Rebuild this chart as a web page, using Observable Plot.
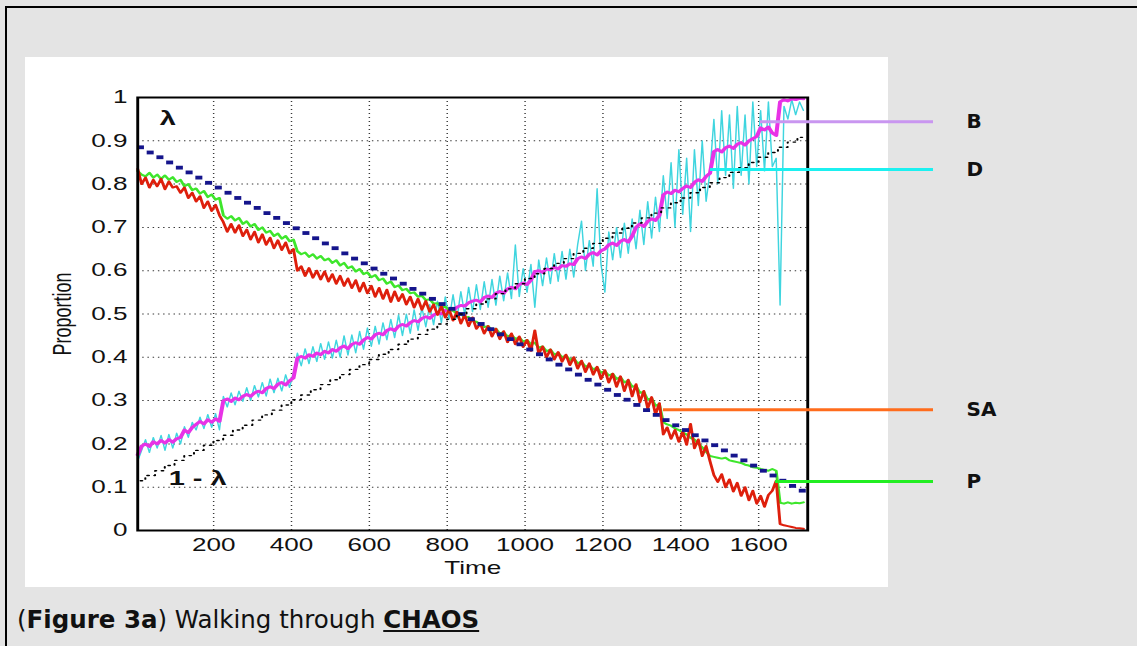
<!DOCTYPE html>
<html><head><meta charset="utf-8">
<script src="https://cdn.jsdelivr.net/npm/d3@7"></script>
<script src="https://cdn.jsdelivr.net/npm/@observablehq/plot@0.6"></script>
<style>
html,body{margin:0;padding:0;background:#e4e4e4;}
#page{position:relative;width:1137px;height:646px;overflow:hidden;background:#e4e4e4;}
#border{position:absolute;left:5px;top:6px;right:-10px;bottom:-10px;border-top:2px solid #000;border-left:2px solid #000;}
#panel{position:absolute;left:25px;top:57px;width:863px;height:530px;background:#fff;}
#chart,#overlay{position:absolute;left:0;top:0;}
#caption{position:absolute;left:17px;top:606px;font-family:"DejaVu Sans",Verdana,sans-serif;font-size:24.5px;line-height:28px;color:#111;white-space:nowrap;}
</style></head><body>
<div id="page"><div id="border"></div><div id="panel"></div><div id="chart"></div><div id="overlay"></div>
<div id="caption">(<b>Figure 3a</b>) Walking through <b><u>CHAOS</u></b></div></div>
<script>
// ---- data ----
const timeStart = 5, timeStep = 10;
const seriesSA = [0.835,0.800,0.815,0.792,0.810,0.795,0.812,0.788,0.806,0.792,
 0.795,0.780,0.792,0.768,0.780,0.760,0.772,0.745,0.760,0.738,
 0.752,0.728,0.712,0.690,0.708,0.688,0.705,0.680,0.695,0.672,
 0.690,0.665,0.684,0.660,0.676,0.652,0.670,0.648,0.665,0.640,
 0.650,0.600,0.610,0.588,0.606,0.584,0.600,0.580,0.598,0.575,
 0.592,0.570,0.588,0.565,0.582,0.560,0.578,0.552,0.572,0.548,
 0.565,0.540,0.560,0.535,0.556,0.528,0.552,0.530,0.546,0.522,
 0.540,0.515,0.535,0.510,0.530,0.505,0.522,0.498,0.518,0.492,
 0.510,0.485,0.505,0.478,0.498,0.472,0.492,0.466,0.478,0.455,
 0.472,0.448,0.466,0.442,0.460,0.435,0.455,0.430,0.448,0.424,
 0.440,0.415,0.462,0.408,0.425,0.400,0.418,0.395,0.412,0.390,
 0.406,0.382,0.400,0.374,0.392,0.366,0.386,0.360,0.378,0.350,
 0.370,0.342,0.362,0.332,0.356,0.322,0.348,0.310,0.338,0.296,
 0.322,0.282,0.308,0.268,0.294,0.222,0.238,0.212,0.232,0.205,
 0.228,0.198,0.246,0.190,0.210,0.172,0.195,0.160,0.128,0.112,
 0.130,0.100,0.118,0.090,0.110,0.080,0.100,0.070,0.092,0.062,
 0.080,0.055,0.082,0.092,0.115,0.015,0.012,0.010,0.008,0.006,
 0.005,0.004];
const seriesP = [0.830,0.822,0.818,0.826,0.815,0.822,0.812,0.820,0.810,0.816,
 0.805,0.810,0.795,0.800,0.786,0.790,0.778,0.784,0.770,0.776,
 0.764,0.768,0.728,0.720,0.726,0.716,0.722,0.708,0.714,0.702,
 0.708,0.694,0.700,0.688,0.692,0.680,0.686,0.674,0.680,0.668,
 0.672,0.645,0.638,0.642,0.632,0.638,0.628,0.634,0.624,0.628,
 0.618,0.624,0.612,0.618,0.606,0.610,0.598,0.604,0.592,0.596,
 0.585,0.590,0.578,0.582,0.570,0.575,0.562,0.566,0.555,0.558,
 0.548,0.550,0.540,0.542,0.532,0.534,0.524,0.525,0.516,0.517,
 0.508,0.508,0.500,0.500,0.492,0.493,0.484,0.482,0.476,0.470,
 0.472,0.462,0.466,0.455,0.458,0.448,0.452,0.442,0.446,0.436,
 0.440,0.430,0.434,0.422,0.425,0.414,0.418,0.406,0.410,0.400,
 0.404,0.394,0.398,0.386,0.390,0.378,0.382,0.372,0.376,0.364,
 0.368,0.358,0.362,0.350,0.354,0.342,0.346,0.332,0.334,0.318,
 0.320,0.302,0.306,0.288,0.292,0.250,0.245,0.242,0.236,0.232,
 0.226,0.222,0.214,0.210,0.200,0.192,0.182,0.172,0.170,0.168,
 0.166,0.168,0.162,0.160,0.158,0.156,0.152,0.150,0.146,0.145,
 0.142,0.140,0.138,0.142,0.138,0.064,0.062,0.065,0.062,0.064,
 0.063,0.065];
const seriesB = [0.175,0.195,0.200,0.194,0.205,0.200,0.208,0.202,0.210,0.204,
 0.212,0.215,0.232,0.226,0.238,0.245,0.252,0.246,0.256,0.250,
 0.258,0.252,0.300,0.304,0.298,0.306,0.302,0.310,0.314,0.310,
 0.318,0.322,0.318,0.328,0.332,0.328,0.338,0.342,0.336,0.346,
 0.352,0.398,0.402,0.398,0.406,0.402,0.410,0.406,0.414,0.410,
 0.418,0.414,0.422,0.426,0.420,0.430,0.434,0.430,0.440,0.446,
 0.442,0.452,0.456,0.452,0.462,0.466,0.462,0.472,0.476,0.472,
 0.480,0.485,0.482,0.490,0.494,0.490,0.498,0.502,0.500,0.508,
 0.512,0.508,0.516,0.520,0.518,0.526,0.530,0.532,0.528,0.538,
 0.542,0.538,0.548,0.552,0.548,0.558,0.562,0.558,0.568,0.572,
 0.568,0.578,0.598,0.600,0.596,0.604,0.602,0.608,0.604,0.612,
 0.610,0.616,0.614,0.628,0.632,0.628,0.638,0.642,0.636,0.646,
 0.650,0.660,0.664,0.658,0.668,0.672,0.666,0.680,0.700,0.708,
 0.702,0.714,0.720,0.716,0.728,0.775,0.782,0.778,0.786,0.782,
 0.790,0.796,0.792,0.804,0.810,0.806,0.818,0.825,0.875,0.880,
 0.874,0.884,0.888,0.882,0.892,0.896,0.890,0.900,0.905,0.910,
 0.930,0.925,0.932,0.918,0.912,0.990,0.995,0.992,0.997,0.995,
 0.998,0.997];
const seriesD = [0.160,0.185,0.210,0.180,0.215,0.190,0.220,0.185,0.222,0.190,
 0.225,0.200,0.240,0.215,0.250,0.232,0.262,0.235,0.268,0.238,
 0.270,0.232,0.310,0.285,0.318,0.290,0.322,0.298,0.330,0.300,
 0.335,0.308,0.342,0.310,0.350,0.318,0.352,0.322,0.360,0.330,
 0.365,0.410,0.380,0.420,0.385,0.425,0.390,0.432,0.395,0.436,
 0.398,0.440,0.400,0.450,0.405,0.452,0.410,0.460,0.418,0.468,
 0.425,0.472,0.430,0.480,0.440,0.488,0.445,0.498,0.450,0.500,
 0.455,0.510,0.462,0.515,0.470,0.522,0.475,0.530,0.480,0.540,
 0.488,0.545,0.490,0.552,0.498,0.562,0.505,0.568,0.510,0.575,
 0.515,0.580,0.520,0.588,0.530,0.595,0.535,0.660,0.540,0.605,
 0.550,0.615,0.515,0.625,0.565,0.630,0.570,0.640,0.575,0.645,
 0.580,0.650,0.585,0.660,0.715,0.600,0.670,0.610,0.790,0.615,
 0.550,0.690,0.625,0.700,0.630,0.710,0.640,0.720,0.650,0.740,
 0.660,0.760,0.675,0.770,0.690,0.820,0.720,0.850,0.700,0.880,
 0.730,0.860,0.690,0.880,0.750,0.900,0.760,0.830,0.950,0.800,
 0.970,0.820,0.960,0.790,0.980,0.820,0.960,0.800,0.990,0.840,
 0.970,0.830,0.990,0.840,0.860,0.520,0.980,0.950,0.995,0.960,
 0.990,0.970];
const lambdaStart = 12, lambdaStep = 25;
const lambda = [0.885,0.873,0.862,0.850,0.838,0.827,0.815,0.803,0.792,0.780,
 0.768,0.757,0.745,0.733,0.722,0.710,0.698,0.687,0.675,0.663,
 0.652,0.640,0.628,0.617,0.605,0.593,0.582,0.570,0.558,0.547,
 0.535,0.523,0.512,0.500,0.488,0.477,0.465,0.453,0.442,0.430,
 0.418,0.407,0.395,0.383,0.372,0.360,0.348,0.337,0.325,0.313,
 0.302,0.290,0.278,0.267,0.255,0.243,0.232,0.220,0.208,0.197,
 0.185,0.173,0.162,0.150,0.138,0.127,0.115,0.103,0.092];
const xTicks = [200,400,600,800,1000,1200,1400,1600];
const yTicks = [0,0.1,0.2,0.3,0.4,0.5,0.6,0.7,0.8,0.9,1];
const seriesLabels = ["B","D","SA","P"];
const leaderValues = [0.944,0.834,0.279,0.113];
const leaderStarts = [1605,1477,1356,1644];
const annotationTexts = ["λ","1 - λ"];
const annotationTimes = [82,159];
const annotationValues = [0.952,0.12];

// ---- styles ----
const lineColors = {D:"#3fd5df", B:"#e832e6", P:"#3ee62c", SA:"#de1f0c"};
const leaderColors = {B:"#c996f0", D:"#1cf0f0", SA:"#ff6c1c", P:"#22ee22"};

// ---- tables ----
const toRows = (vals) => vals.map((v,i) => ({time: timeStart + i*timeStep, value: v}));
const rowsD = toRows(seriesD), rowsB = toRows(seriesB), rowsP = toRows(seriesP), rowsSA = toRows(seriesSA);
const lambdaRows = lambda.map((v,i) => ({time: lambdaStart + i*lambdaStep, value: v}));
const leaders = seriesLabels.map((l,i) => ({label: l, value: leaderValues[i], start: leaderStarts[i]}));
const annotations = annotationTexts.map((t,i) => ({text: t, time: annotationTimes[i], value: annotationValues[i]}));

const W = 1137, H = 590, S = 1.45;        // horizontal stretch of the original raster
const frameL = 137, frameR = 807, frameT = 97, frameB = 530;
const labelColumn = 933;                  // where the leader lines stop (px)
const xDomain = [5, 1726];
const leaderEnd = d3.scaleLinear(xDomain, [frameL, frameR]).invert(labelColumn);

const plotA = Plot.plot({
  width: W / S, height: H,
  marginLeft: frameL / S, marginRight: (W - frameR) / S, marginTop: frameT, marginBottom: H - frameB,
  x: {domain: xDomain},
  y: {domain: [0, 1]},
  style: {fontFamily: "'Liberation Sans', Arial, sans-serif", fontSize: "18px", background: "transparent", overflow: "visible", color: "#111"},
  marks: [
    Plot.gridX(xTicks, {stroke: "#222", strokeOpacity: 0.9, strokeDasharray: "1,3"}),
    Plot.gridY(yTicks.slice(1, -1), {stroke: "#222", strokeOpacity: 0.9, strokeDasharray: "1,2.6"}),
    Plot.line(rowsD, {x: "time", y: "value", stroke: lineColors.D, strokeWidth: 1}),
    Plot.line(rowsB, {x: "time", y: "value", stroke: lineColors.B, strokeWidth: 2.8}),
    Plot.line(rowsP, {x: "time", y: "value", stroke: lineColors.P, strokeWidth: 2}),
    Plot.line(rowsSA, {x: "time", y: "value", stroke: lineColors.SA, strokeWidth: 2}),
    Plot.link(lambdaRows, {x1: d => d.time - 9, x2: d => d.time + 9, y1: "value", y2: "value", stroke: "#15158c", strokeWidth: 3.8}),
    Plot.line(lambdaRows, {x: "time", y: d => 1 - d.value, curve: "step", stroke: "#000", strokeWidth: 1.4, strokeDasharray: "1.3,3.6"}),
    Plot.text(annotations, {x: "time", y: "value", text: "text", fontWeight: "bold", fontSize: 20}),
    Plot.axisX(xTicks, {tickSize: 0, tickPadding: 8, label: null, tickFormat: d => String(d)}),
    Plot.axisY(yTicks, {tickSize: 0, tickPadding: 7, label: null, tickFormat: d => String(+d.toFixed(1))}),
    Plot.text(["Time"], {text: d => d, frameAnchor: "bottom", lineAnchor: "middle", textAnchor: "middle", dy: 38}),
    Plot.text(["Proportion"], {text: d => d, frameAnchor: "left", textAnchor: "middle", lineAnchor: "middle", dx: -52, rotate: -90}),
    Plot.frame({stroke: "#000", strokeWidth: 2})
  ]
});
plotA.setAttribute("width", W);
plotA.setAttribute("height", H);
plotA.setAttribute("preserveAspectRatio", "none");
plotA.style.width = W + "px";
plotA.style.height = H + "px";
plotA.style.maxWidth = "none";
document.getElementById("chart").appendChild(plotA);

const plotB = Plot.plot({
  width: W, height: H,
  marginLeft: frameL, marginRight: W - frameR, marginTop: frameT, marginBottom: H - frameB,
  x: {domain: xDomain, axis: null},
  y: {domain: [0, 1], axis: null},
  style: {fontFamily: "'DejaVu Sans', Verdana, sans-serif", fontSize: "20px", background: "transparent", overflow: "visible", color: "#111"},
  marks: [
    Plot.ruleY(leaders, {y: "value", x1: "start", x2: () => leaderEnd, stroke: d => leaderColors[d.label], strokeWidth: 3}),
    Plot.text(leaders, {y: "value", text: "label", frameAnchor: "right", dx: 159, textAnchor: "start", fontWeight: "bold"})
  ]
});
plotB.style.maxWidth = "none";
document.getElementById("overlay").appendChild(plotB);
</script>
</body></html>
